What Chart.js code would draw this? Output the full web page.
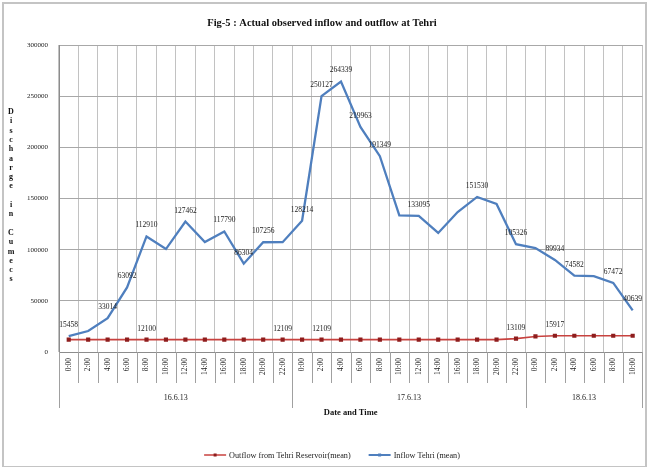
<!DOCTYPE html>
<html>
<head>
<meta charset="utf-8">
<script src="https://cdn.jsdelivr.net/npm/chart.js@4.4.0/dist/chart.umd.min.js"></script>
<style>
  html, body { margin: 0; padding: 0; background: #fff; }
</style>
</head>
<body>
<canvas id="flowChart" width="648" height="467"></canvas>
<script>
// categories: two-hourly readings over three days
const timeLabels = [
  "0:00", "2:00", "4:00", "6:00", "8:00", "10:00", "12:00", "14:00", "16:00", "18:00", "20:00", "22:00",
  "0:00", "2:00", "4:00", "6:00", "8:00", "10:00", "12:00", "14:00", "16:00", "18:00", "20:00", "22:00",
  "0:00", "2:00", "4:00", "6:00", "8:00", "10:00"
];
const dateLabels = ["16.6.13", "17.6.13", "18.6.13"];
const dateSpans = [12, 12, 6];

// discharge in cumecs
const inflowTehri = [
  15458, 20500, 33014, 63092, 112910, 100600, 127462, 107500, 117790, 86304, 107256, 107300,
  128214, 250127, 264339, 219963, 191349, 133500, 133095, 116300, 136800, 151530, 144600, 105326,
  101600, 89934, 74582, 74200, 67472, 40639
];
const outflowTehri = [
  12100, 12100, 12100, 12100, 12100, 12100, 12100, 12100, 12100, 12100, 12100, 12109,
  12100, 12109, 12100, 12100, 12100, 12100, 12100, 12100, 12100, 12100, 12100, 13109,
  15200, 15917, 15900, 15900, 15900, 15900
];

// which points carry a value label
const inflowLabelled = [0, 2, 3, 4, 6, 8, 9, 10, 12, 13, 14, 15, 16, 18, 21, 23, 25, 26, 28, 29];
const outflowLabelled = [4, 11, 13, 23, 25];

const seriesNames = ["Outflow from Tehri Reservoir(mean)", "Inflow Tehri (mean)"];
const yAxisTitle = "Discharge in Cumecs";
const xAxisTitle = "Date and Time";
const chartTitle = "Fig-5 : Actual observed inflow and outflow at Tehri";

const serif = '"Liberation Serif", "Times New Roman", serif';
const redLine = "#c8423f";
const redMark = "#8e1d1d";
const blueLine = "#4f7fbe";

const excelBits = {
  id: "excelBits",
  beforeDraw(chart) {
    const { ctx, width, height } = chart;
    ctx.save();
    ctx.fillStyle = "#fff";
    ctx.fillRect(0, 0, width, height);
    ctx.strokeStyle = "#c4c4c4";
    ctx.lineWidth = 2;
    ctx.strokeRect(3, 3, width - 5, height - 3);
    ctx.restore();
  },
  afterDatasetsDraw(chart) {
    const { ctx } = chart;
    ctx.save();
    ctx.font = "7.5px " + serif;
    ctx.fillStyle = "#222";
    ctx.textAlign = "center";
    ctx.textBaseline = "middle";
    [[0, outflowLabelled], [1, inflowLabelled]].forEach(([di, idxs]) => {
      const meta = chart.getDatasetMeta(di);
      const vals = chart.data.datasets[di].data;
      idxs.forEach(i => {
        const pt = meta.data[i];
        ctx.fillText(String(vals[i]), pt.x, pt.y - 11);
      });
    });
    ctx.restore();
  },
  afterDraw(chart) {
    const { ctx, chartArea: area, scales: { x } } = chart;
    const half = (x.getPixelForValue(1) - x.getPixelForValue(0)) / 2;
    const edge = i => x.getPixelForValue(i) - half;

    ctx.save();
    // title
    ctx.fillStyle = "#111";
    ctx.textAlign = "center";
    ctx.textBaseline = "middle";
    ctx.font = "bold 10.5px " + serif;
    ctx.fillText(chartTitle, 322, 23);

    // stacked y axis title
    ctx.font = "bold 8px " + serif;
    [...yAxisTitle].forEach((ch, k) => ctx.fillText(ch, 11, 112 + k * 9.3));

    // multi-level category dividers
    ctx.strokeStyle = "#a0a0a0";
    ctx.lineWidth = 1;
    ctx.beginPath();
    for (let i = 0; i <= timeLabels.length; i++) {
      const px = Math.round(edge(i)) + 0.5;
      ctx.moveTo(px, area.bottom);
      ctx.lineTo(px, area.bottom + 31);
    }
    let start = 0;
    const groupEdges = [0];
    dateSpans.forEach(n => { start += n; groupEdges.push(start); });
    groupEdges.forEach(i => {
      const px = Math.round(edge(i)) + 0.5;
      ctx.moveTo(px, area.bottom);
      ctx.lineTo(px, area.bottom + 56);
    });
    ctx.stroke();

    ctx.font = "8px " + serif;
    ctx.fillStyle = "#222";
    dateLabels.forEach((d, g) => {
      const mid = (edge(groupEdges[g]) + edge(groupEdges[g + 1])) / 2;
      ctx.fillText(d, mid, area.bottom + 46);
    });

    ctx.font = "bold 8.5px " + serif;
    ctx.fillStyle = "#111";
    ctx.fillText(xAxisTitle, (area.left + area.right) / 2, area.bottom + 61);

    // legend
    ctx.font = "8.2px " + serif;
    const sample = 22, gap = 3, between = 18;
    const widths = seriesNames.map(s => ctx.measureText(s).width);
    const total = widths.reduce((a, w) => a + sample + gap + w, 0) + between;
    let lx = 332 - total / 2;
    const ly = 455;
    const colors = [redLine, blueLine];
    seriesNames.forEach((name, k) => {
      ctx.strokeStyle = colors[k];
      ctx.lineWidth = k === 0 ? 1.5 : 2;
      ctx.beginPath();
      ctx.moveTo(lx, ly);
      ctx.lineTo(lx + sample, ly);
      ctx.stroke();
      ctx.fillStyle = k === 0 ? redMark : blueLine;
      ctx.fillRect(lx + sample / 2 - 1.5, ly - 1.5, 3, 3);
      ctx.fillStyle = "#222";
      ctx.textAlign = "left";
      ctx.fillText(name, lx + sample + gap, ly + 0.5);
      lx += sample + gap + widths[k] + between;
    });
    ctx.restore();
  }
};

new Chart(document.getElementById("flowChart"), {
  type: "line",
  data: {
    labels: timeLabels,
    datasets: [
      {
        label: seriesNames[0],
        data: outflowTehri,
        borderColor: redLine,
        backgroundColor: redMark,
        borderWidth: 1.6,
        pointStyle: "rect",
        pointRadius: 1.8,
        pointBorderColor: redMark,
        pointBackgroundColor: redMark,
        tension: 0
      },
      {
        label: seriesNames[1],
        data: inflowTehri,
        borderColor: blueLine,
        backgroundColor: blueLine,
        borderWidth: 2.3,
        pointRadius: 0,
        tension: 0
      }
    ]
  },
  options: {
    responsive: false,
    animation: false,
    devicePixelRatio: 1,
    layout: { padding: { top: 45, right: 4, bottom: 0, left: 0 } },
    plugins: {
      legend: { display: false },
      title: { display: false },
      tooltip: { enabled: false }
    },
    scales: {
      x: {
        offset: true,
        grid: { offset: true, color: "#c2c2c2", drawTicks: false },
        border: { display: true, color: "#8c8c8c" },
        ticks: {
          autoSkip: false,
          minRotation: 90,
          maxRotation: 90,
          padding: 6,
          color: "#222",
          font: { family: serif, size: 7.5 }
        },
        afterFit(scale) { scale.height = 115; }
      },
      y: {
        min: 0,
        max: 300000,
        grid: { color: "#a8a8a8", drawTicks: false },
        border: { display: true, color: "#8c8c8c" },
        ticks: {
          stepSize: 50000,
          padding: 11,
          color: "#222",
          font: { family: serif, size: 7 },
          callback: v => String(v)
        },
        afterFit(scale) { scale.width = 59; }
      }
    }
  },
  plugins: [excelBits]
});
</script>
</body>
</html>
